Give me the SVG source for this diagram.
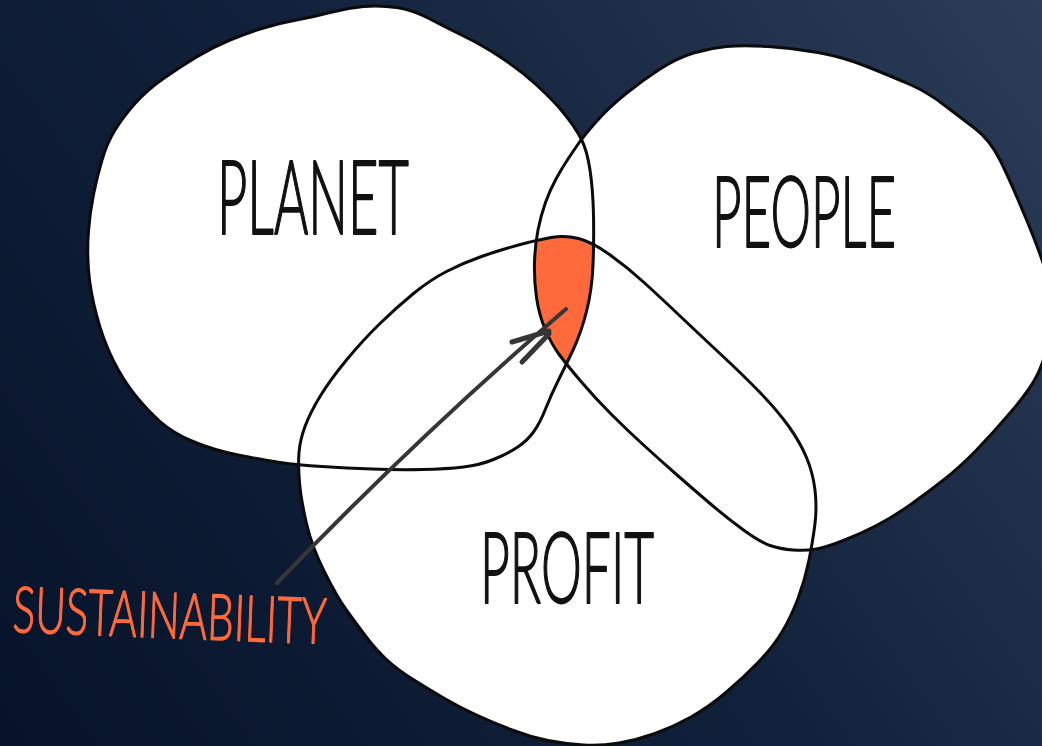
<svg xmlns="http://www.w3.org/2000/svg" xmlns:xlink="http://www.w3.org/1999/xlink" width="1042" height="746" viewBox="0 0 1042 746">
<style>
.fill{fill:#ffffff}
.outline{fill:none;stroke:#0b0b0b;stroke-width:3;stroke-linejoin:round;stroke-linecap:round}
.label{font-family:Lato,Inter,"DejaVu Sans",sans-serif;font-weight:300;fill:#111111;stroke:#111111;stroke-width:1.5;stroke-linejoin:round;vector-effect:non-scaling-stroke}
.accent{font-family:Lato,Inter,"DejaVu Sans",sans-serif;font-weight:300;fill:#ff6a3c;stroke:#ff6a3c;stroke-width:1.1;stroke-linejoin:round;vector-effect:non-scaling-stroke}
.arrow{fill:none;stroke:#363636;stroke-linecap:round;stroke-linejoin:round}
</style>
<defs>
<linearGradient id="bg" x1="1042" y1="0" x2="0" y2="746" gradientUnits="userSpaceOnUse">
<stop offset="0" stop-color="#2c3d59"/>
<stop offset="0.5" stop-color="#12213b"/>
<stop offset="1" stop-color="#06132a"/>
</linearGradient>
<path id="planet-shape" d="M396.5,7.5 Q413,10 429,18.5 Q445,27 463.5,36 Q482,45 501,57.5 Q520,70 536.5,85 Q553,100 564,113.5 Q575,127 581,138.5 Q587,150 590,170 Q593,190 593.5,215 Q594,240 593,265 Q592,290 586.5,311.5 Q581,333 573.5,349 Q566,365 558.5,380 Q551,395 545.5,409 Q540,423 533.5,432 Q527,441 517,447.5 Q507,454 493.5,459.5 Q480,465 463.5,467 Q447,469 422,469.5 Q397,470 372,469 Q347,468 322,466.5 Q297,465 280,462.5 Q263,460 238,455 Q213,450 193,441.5 Q173,433 160,421.5 Q147,410 135,395 Q123,380 113,360 Q103,340 96.5,315 Q90,290 88.5,270 Q87,250 88.5,231 Q90,212 93.5,194.5 Q97,177 102,160 Q107,143 115,130 Q123,117 135,103.5 Q147,90 163.5,78.5 Q180,67 196.5,57 Q213,47 230,40 Q247,33 263.5,28 Q280,23 296.5,20 Q313,17 330,12.5 Q347,8 363.5,6.5 Q380,5 396.5,7.5 Z"/>
<path id="people-shape" d="M578.5,143.5 Q583,137 595.5,122.5 Q608,108 625.5,94 Q643,80 660,69 Q677,58 693.5,53 Q710,48 726.5,46.5 Q743,45 768,46.5 Q793,48 818,52.5 Q843,57 868,67 Q893,77 910,84.5 Q927,92 943.5,104.5 Q960,117 975,128.5 Q990,140 1000,160 Q1010,180 1026,218.5 Q1042,257 1050,284.5 Q1058,312 1050,339.5 Q1042,367 1034.5,380 Q1027,393 1010,413 Q993,433 976.5,450 Q960,467 943.5,480 Q927,493 910,505 Q893,517 876.5,525.5 Q860,534 843.5,540.5 Q827,547 816.5,549 Q806,551 793,550 Q780,549 770,545.5 Q760,542 743.5,530 Q727,518 710,503.5 Q693,489 676.5,474.5 Q660,460 643.5,445 Q627,430 611,414 Q595,398 581,381.5 Q567,365 559.5,355 Q552,345 545.5,330 Q539,315 536.5,297.5 Q534,280 534.5,262.5 Q535,245 538,230 Q541,215 545.5,202.5 Q550,190 556,179 Q562,168 568,159 Q574,150 578.5,143.5 Z"/>
<path id="profit-shape" d="M551,237.5 Q565,235 578.5,238.5 Q592,242 609.5,254.5 Q627,267 643.5,282 Q660,297 680,316 Q700,335 721.5,355 Q743,375 760,392.5 Q777,410 788.5,426 Q800,442 806.5,457.5 Q813,473 815,490 Q817,507 815,523.5 Q813,540 809,560 Q805,580 798,598.5 Q791,617 782,632 Q773,647 758.5,662 Q744,677 726.5,692 Q709,707 691,717 Q673,727 655,733.5 Q637,740 619,743 Q601,746 583.5,745 Q566,744 548,740.5 Q530,737 512,730 Q494,723 476.5,715 Q459,707 444.5,698.5 Q430,690 414,680 Q398,670 387,660 Q376,650 365.5,636 Q355,622 346,609.5 Q337,597 324.5,572 Q312,547 306.5,523.5 Q301,500 299.5,482.5 Q298,465 299,452.5 Q300,440 305,426.5 Q310,413 320,396.5 Q330,380 346.5,360 Q363,340 380,323.5 Q397,307 413.5,293.5 Q430,280 446.5,271.5 Q463,263 481.5,256.5 Q500,250 518.5,245 Q537,240 551,237.5 Z"/>
<clipPath id="clip-people"><use xlink:href="#people-shape" href="#people-shape"/></clipPath>
<clipPath id="clip-profit"><use xlink:href="#profit-shape" href="#profit-shape"/></clipPath>
</defs>

<rect x="0" y="0" width="1042" height="746" fill="url(#bg)"/>

<g id="fills">
<use class="fill" xlink:href="#planet-shape" href="#planet-shape"/>
<use class="fill" xlink:href="#people-shape" href="#people-shape"/>
<use class="fill" xlink:href="#profit-shape" href="#profit-shape"/>
</g>

<g id="sustainability-region" clip-path="url(#clip-people)">
<g clip-path="url(#clip-profit)">
<use xlink:href="#planet-shape" href="#planet-shape" fill="#ff6a3c"/>
</g>
</g>

<g id="planet">
<use class="outline" xlink:href="#planet-shape" href="#planet-shape"/>
<text class="label" transform="translate(217 234) scale(0.52 1)" x="0" y="0" font-size="103" textLength="369" lengthAdjust="spacingAndGlyphs">PLANET</text>
</g>

<g id="people">
<use class="outline" xlink:href="#people-shape" href="#people-shape"/>
<text class="label" transform="translate(712 247) scale(0.52 1)" x="0" y="0" font-size="98" textLength="354" lengthAdjust="spacingAndGlyphs">PEOPLE</text>
</g>

<g id="profit">
<use class="outline" xlink:href="#profit-shape" href="#profit-shape"/>
<text class="label" transform="translate(480 603) scale(0.52 1)" x="0" y="0" font-size="98" textLength="335" lengthAdjust="spacingAndGlyphs">PROFIT</text>
</g>

<g id="connectors">
<path class="arrow" stroke-width="4" d="M277,583 Q415,439 566,309"/>
<path class="arrow" stroke-width="5" d="M512,342 L549,331 M522,362 L549,334"/>
</g>

<g id="sustainability-label">
<text class="accent" transform="translate(12 632) rotate(2.2) scale(0.6 1)" x="0" y="0" font-size="64" textLength="523" lengthAdjust="spacingAndGlyphs">SUSTAINABILITY</text>
</g>
</svg>
